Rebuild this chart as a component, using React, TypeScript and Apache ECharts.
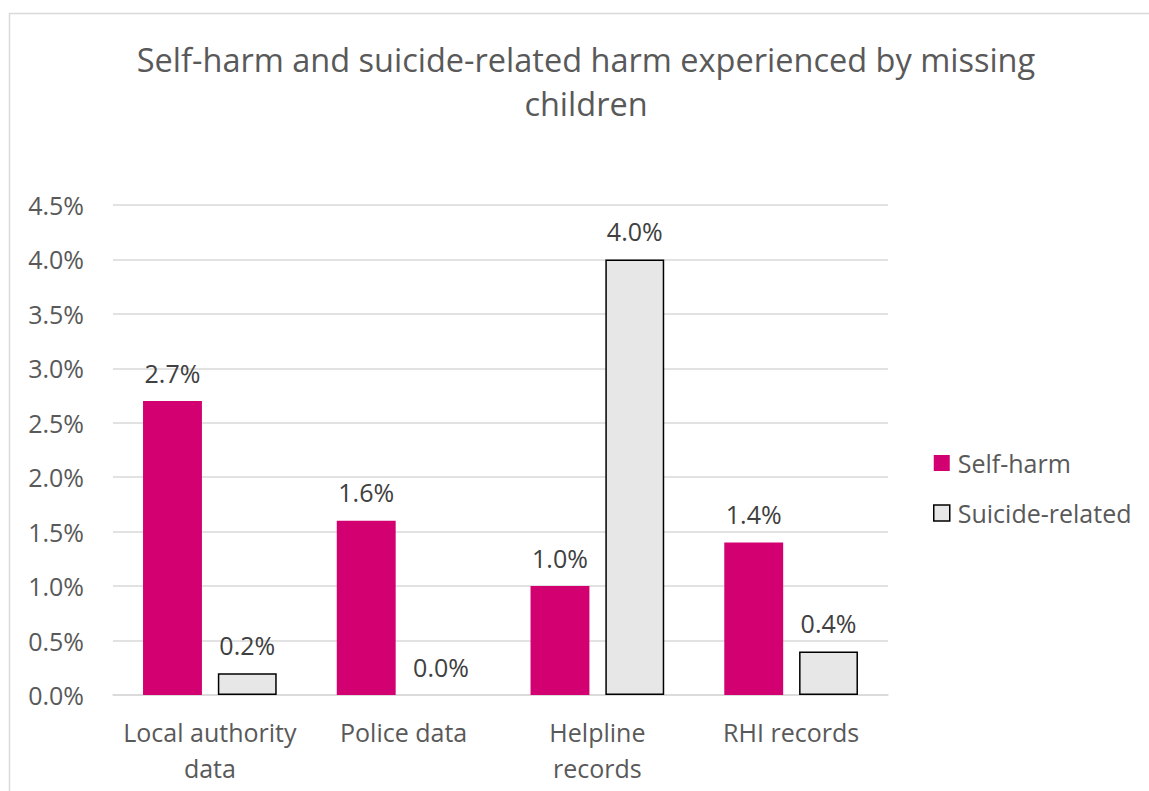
import React, { useEffect, useRef } from "react";
import * as echarts from "echarts";

const categories = ["Local authority\ndata", "Police data", "Helpline\nrecords", "RHI records"];
const selfHarm = [2.7, 1.6, 1.0, 1.4];
const suicideRelated = [0.2, 0.0, 4.0, 0.4];
const yTicks = [0, 0.5, 1.0, 1.5, 2.0, 2.5, 3.0, 3.5, 4.0, 4.5];

const FONT = "'Open Sans', 'Noto Sans', sans-serif";
const LABEL_SIZE = 25;

export default function App() {
  const ref = useRef<HTMLDivElement>(null);
  useEffect(() => {
    document.body.style.margin = "0";
    const chart = echarts.init(ref.current!, undefined, { renderer: "svg" });
    const pct = (p: any) => Number(p.value).toFixed(1) + "%";
    chart.setOption({
      animation: false,
      backgroundColor: "#ffffff",
      textStyle: { fontFamily: FONT },
      title: {
        text: "Self-harm and suicide-related harm experienced by missing\nchildren",
        left: 586,
        top: 37,
        padding: 0,
        textAlign: "center",
        textStyle: { fontFamily: FONT, fontSize: 32.5, fontWeight: "normal", color: "#595959", lineHeight: 44 },
      },
      graphic: [
        {
          type: "rect",
          shape: { x: 9.5, y: 13.5, width: 1200, height: 900 },
          style: { fill: "none", stroke: "#d9d9d9", lineWidth: 1.5 },
          silent: true,
        },
      ],
      legend: {
        orient: "vertical",
        left: 933,
        top: 449,
        padding: 0,
        itemWidth: 16,
        itemHeight: 16,
        itemGap: 22,
        icon: "rect",
        textStyle: { fontFamily: FONT, fontSize: LABEL_SIZE, color: "#595959", lineHeight: 28, padding: [0, 0, 0, 3] },
        data: [
          { name: "Self-harm", itemStyle: { color: "#d20070" } },
          { name: "Suicide-related", itemStyle: { color: "#e7e7e7", borderColor: "#000000", borderWidth: 1.5 } },
        ],
      },
      grid: { left: 113, right: 261, top: 205, bottom: 96, containLabel: false },
      xAxis: {
        type: "category",
        data: categories,
        axisLine: { show: true, lineStyle: { color: "#d9d9d9", width: 1.5 } },
        axisTick: { show: false },
        axisLabel: { interval: 0, fontFamily: FONT, fontSize: LABEL_SIZE, color: "#595959", margin: 19, lineHeight: 36 },
      },
      yAxis: {
        type: "value",
        min: 0,
        max: 4.5,
        interval: 0.5,
        axisLine: { show: false },
        axisTick: { show: false },
        splitLine: { lineStyle: { color: "#d9d9d9", width: 1.5 } },
        axisLabel: {
          fontFamily: FONT,
          fontSize: LABEL_SIZE,
          color: "#595959",
          margin: 29,
          formatter: (v: number) => (yTicks.includes(v) ? v.toFixed(1) + "%" : ""),
        },
      },
      series: [
        {
          name: "Self-harm",
          type: "bar",
          data: selfHarm,
          barGap: "27%",
          barCategoryGap: "31%",
          itemStyle: { color: "#d20070" },
          label: {
            show: true,
            position: "top",
            distance: 16,
            fontFamily: FONT,
            fontSize: LABEL_SIZE,
            color: "#404040",
            formatter: pct,
          },
        },
        {
          name: "Suicide-related",
          type: "bar",
          data: suicideRelated.map((v) => ({
            value: v,
            itemStyle: v === 0 ? { borderWidth: 0 } : undefined,
          })),
          itemStyle: { color: "#e7e7e7", borderColor: "#000000", borderWidth: 1.5 },
          label: {
            show: true,
            position: "top",
            distance: 16,
            fontFamily: FONT,
            fontSize: LABEL_SIZE,
            color: "#404040",
            formatter: pct,
          },
        },
      ],
    });
    return () => chart.dispose();
  }, []);
  return <div ref={ref} style={{ width: 1149, height: 791 }} />;
}
